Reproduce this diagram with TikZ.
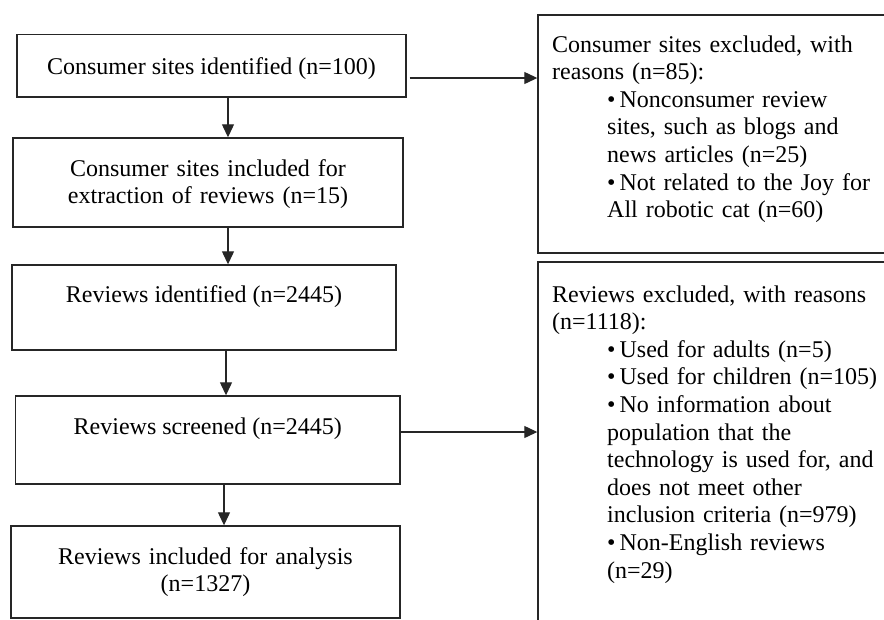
\documentclass[tikz,border=0pt]{standalone}
\usepackage{fontspec}
\setmainfont{Liberation Serif}
\usetikzlibrary{arrows.meta}
\newcommand{\bulletindent}{\hspace*{55pt}}
\newcommand{\itembullet}{\textbullet\,}
\begin{document}
\begin{tikzpicture}[x=1pt,y=-1pt,
  box/.style={draw=black!85, line width=1.4pt, rectangle, inner sep=0pt},
  txt/.style={font=\fontsize{24pt}{27.6pt}\selectfont, inner sep=0pt},
  flow/.style={draw=black!85, line width=1.2pt, -{Triangle[length=13pt,width=12pt]}}
]
\useasboundingbox (0,0) rectangle (884,619);
\clip (0,0) rectangle (884,619);

% main column
\node[box, minimum width=389pt, minimum height=62.5pt] (b1) at (211.5,65.75) {};
\node[box, minimum width=390pt, minimum height=89pt]   (b2) at (208,182.5) {};
\node[box, minimum width=384pt, minimum height=85pt]   (b3) at (204,307.5) {};
\node[box, minimum width=384.5pt, minimum height=88pt] (b4) at (207.75,440) {};
\node[box, minimum width=389pt, minimum height=92pt]   (b5) at (205.5,572) {};

\node[txt, anchor=base] (t1) at (211.5,74) {Consumer sites identified (n=100)};
\node[txt, anchor=base, text width=380pt, align=center] (t2) at (208,176)
  {Consumer sites included for\\extraction of reviews (n=15)};
\node[txt, anchor=base] (t3) at (204,302) {Reviews identified (n=2445)};
\node[txt, anchor=base] (t4) at (207.75,434) {Reviews screened (n=2445)};
\node[txt, anchor=base, text width=380pt, align=center] (t5) at (205.5,564)
  {Reviews included for analysis\\(n=1327)};

% exclusion boxes, open to the right
\node[box, minimum width=372pt, minimum height=238pt] (r1) at (724,134) {};
\node[box, minimum width=372pt, minimum height=388pt] (r2) at (724,456) {};

\node[txt, anchor=base west, text width=330pt, align=left] (rt1) at (552,52)
  {Consumer sites excluded, with\\
   reasons (n=85):\\
   \bulletindent\itembullet Nonconsumer review\\
   \bulletindent sites, such as blogs and\\
   \bulletindent news articles (n=25)\\
   \bulletindent\itembullet Not related to the Joy for\\
   \bulletindent All robotic cat (n=60)};

\node[txt, anchor=base west, text width=330pt, align=left] (rt2) at (552,302)
  {Reviews excluded, with reasons\\
   (n=1118):\\
   \bulletindent\itembullet Used for adults (n=5)\\
   \bulletindent\itembullet Used for children (n=105)\\
   \bulletindent\itembullet No information about\\
   \bulletindent population that the\\
   \bulletindent technology is used for, and\\
   \bulletindent does not meet other\\
   \bulletindent inclusion criteria (n=979)\\
   \bulletindent\itembullet Non-English reviews\\
   \bulletindent (n=29)};

% connectors
\coordinate (s1) at (228,0);
\coordinate (s2) at (226,0);
\coordinate (s3) at (224,0);
\coordinate (h1) at (0,78);
\coordinate (h2) at (0,432);

\draw[flow] (b1.south -| s1) -- (b2.north -| s1);
\draw[flow] (b2.south -| s1) -- (b3.north -| s1);
\draw[flow] (b3.south -| s2) -- (b4.north -| s2);
\draw[flow] (b4.south -| s3) -- (b5.north -| s3);
\draw[flow] ([xshift=3pt]b1.east |- h1) -- (r1.west |- h1);
\draw[flow] (b4.east |- h2) -- (r2.west |- h2);
\end{tikzpicture}
\end{document}
